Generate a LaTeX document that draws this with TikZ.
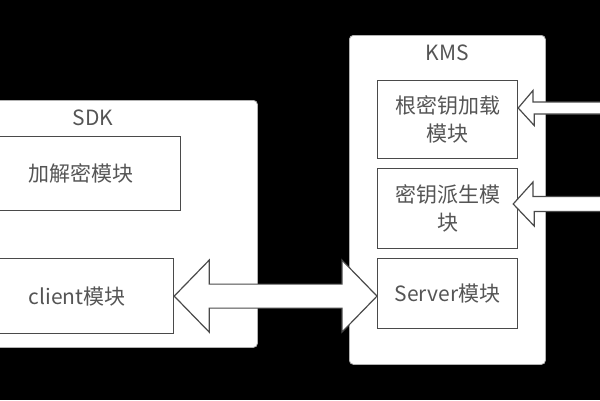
\documentclass[tikz,border=0pt]{standalone}
\usepackage{fontspec}
\setmainfont{Noto Sans CJK SC}
\usetikzlibrary{calc}
\definecolor{txt}{HTML}{555555}
\definecolor{edge}{HTML}{4A4A4A}
\tikzset{
  outer/.style={fill=white, draw=gray!60, rounded corners=4pt, line width=0.8pt, inner sep=0pt},
  module/.style={fill=white, draw=edge, line width=1.2pt, text=txt, align=center,
    font=\fontsize{21}{28}\selectfont, inner sep=0pt, anchor=north west},
  title/.style={text=txt, font=\fontsize{21}{26}\selectfont, inner sep=0pt},
  hollow/.style={fill=white, draw=edge, line width=1.2pt, line join=miter},
}
\begin{document}
\begin{tikzpicture}[x=1pt,y=-1pt]
  \useasboundingbox (0,0) rectangle (600,400);
  \fill[black] (0,0) rectangle (600,400);
  % SDK side
  \node[outer, anchor=north west, minimum width=277, minimum height=247] (sdk) at (-20,100) {};
  \node[title] (sdklabel) at (93,118) {SDK};
  \node[module, minimum width=200, minimum height=74] (crypto) at (-20,136) {加解密模块};
  \node[module, minimum width=193, minimum height=75] (client) at (-20,258) {client模块};
  % KMS side
  \node[outer, anchor=north west, minimum width=196, minimum height=329] (kms) at (349,35) {};
  \node[title] (kmslabel) at (447,53) {KMS};
  \node[module, minimum width=140, minimum height=78] (root) at (377,80) {根密钥加载\\模块};
  \node[module, minimum width=140, minimum height=80] (derive) at (377,168) {密钥派生模\\块};
  \node[module, minimum width=140, minimum height=70] (server) at (377,258) {Server模块};
  % arrows
  \coordinate (feed1) at (600,108);
  \coordinate (feed2) at (600,204);
  \draw[hollow] (client.east) -- ++(35,-36) -- ++(0,24)
    -- ($(client.east -| server.west)+(-35,-12)$) -- ++(0,-24)
    -- (client.east -| server.west) -- ++(-35,36) -- ++(0,-24)
    -- ($(client.east)+(35,12)$) -- ++(0,24) -- cycle;
  \draw[hollow] ($(feed1)+(0,-6)$) -- ++(-67,0) -- ++(0,-11.5)
    -- (feed1 -| root.east) -- ++(16,17.5) -- ++(0,-11.5) -- ($(feed1)+(0,6)$);
  \draw[hollow] ($(feed2)+(0,-7.5)$) -- ++(-67,0) -- ++(0,-14.5)
    -- ($(feed2 -| derive.east)+(-5,0)$) -- ++(21,22) -- ++(0,-14.5) -- ($(feed2)+(0,7.5)$);
\end{tikzpicture}
\end{document}
